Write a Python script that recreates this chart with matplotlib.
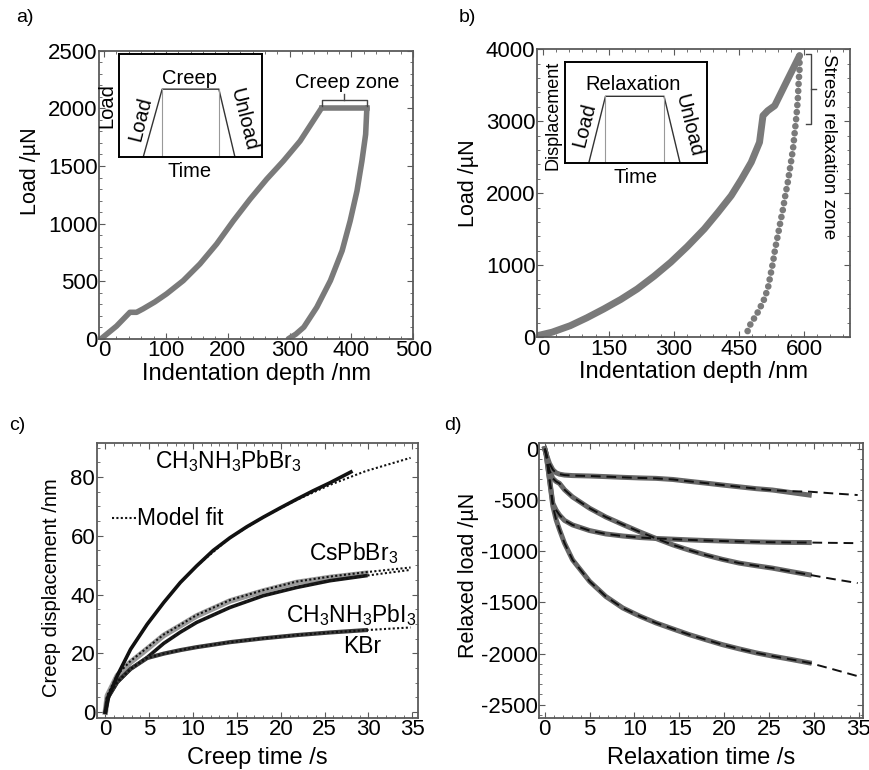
import matplotlib
matplotlib.use("Agg")
from matplotlib import pyplot as plt
from matplotlib.ticker import MultipleLocator

plt.rcParams['font.family'] = ['Liberation Sans', 'DejaVu Sans']
plt.rcParams['mathtext.fontset'] = 'custom'
plt.rcParams['mathtext.rm'] = 'Liberation Sans'
plt.rcParams['mathtext.it'] = 'Liberation Sans'
plt.rcParams['axes.unicode_minus'] = False

# a) creep indentation curve
a_load_depth = [-5, 20, 41.7, 52.5, 63, 82, 101, 128, 155, 182, 209, 236, 263, 290, 317, 352]
a_load_force = [0, 110, 230, 230, 260, 320, 390, 505, 650, 823, 1024, 1212, 1386, 1544, 1717, 2006]
a_creep_depth = [352, 375, 400, 425]
a_creep_force = [2006, 2006, 2006, 2006]
a_unload_depth = [425, 423, 417, 409, 398, 385, 366, 344, 323, 310, 298]
a_unload_force = [2006, 1775, 1544, 1284, 1024, 765, 505, 274, 101, 40, 0]

# b) stress relaxation indentation curve
b_load_depth = [-15, 20, 62, 100, 139, 178, 216, 255, 293, 331, 370, 401, 432, 455, 478, 497, 505, 516, 532, 560, 589]
b_load_force = [20, 70, 161, 270, 393, 525, 671, 850, 1042, 1260, 1504, 1730, 1967, 2190, 2431, 2708, 3078, 3147, 3217, 3560, 3911]
b_unload_depth = [589, 589, 587, 585, 582, 578, 574, 568, 562, 556, 551, 545, 539, 533, 528, 522, 516, 507, 497, 488, 478, 470, 466]
b_unload_force = [3911, 3720, 3542, 3300, 3078, 2850, 2615, 2380, 2153, 1960, 1782, 1600, 1411, 1230, 1042, 855, 671, 520, 393, 290, 208, 92, 22]

# c) creep displacement vs time
c_time_bbr = [0, 0.4, 1.36, 2.88, 4.77, 6.66, 8.55, 10.4, 12.3, 14.2, 16.1, 18.0, 19.9, 21.8, 23.7, 25.6, 28.0]
c_mapbbr = [0, 5.5, 12.4, 21.4, 29.9, 37.3, 44.1, 49.7, 55.0, 59.3, 63.0, 66.3, 69.4, 72.4, 75.3, 78.0, 81.7]
c_time = [0, 0.23, 1.36, 2.88, 4.77, 6.66, 8.55, 10.4, 14.2, 18.0, 21.8, 25.6, 29.7]
c_cspbbr = [0, 5.6, 12.4, 17.0, 21.5, 26.1, 29.4, 32.7, 37.8, 41.2, 44.1, 45.8, 47.2]
c_mapbi = [0, 4.5, 10.1, 14.7, 18.6, 23.4, 27.2, 30.5, 35.6, 39.6, 42.4, 44.7, 46.4]
c_kbr = [0, 4.8, 10.4, 14.7, 18.4, 19.9, 21.1, 22.1, 23.8, 25.1, 26.2, 27.1, 27.9]
c_fit_time = [0, 0.23, 1.36, 2.88, 4.77, 6.66, 8.55, 10.4, 14.2, 18.0, 21.8, 25.6, 29.7, 34.8]
c_fit_mapbbr = [0, 4.5, 12.4, 21.4, 29.9, 37.3, 44.1, 49.7, 59.3, 66.3, 72.2, 77.3, 82.0, 86.5]
c_fit_cspbbr = [0, 5.8, 12.8, 17.4, 21.9, 26.4, 29.7, 33.0, 38.1, 41.5, 44.4, 46.1, 47.6, 49.2]
c_fit_mapbi = [0, 4.5, 10.1, 14.7, 18.6, 23.4, 27.2, 30.5, 35.6, 39.6, 42.4, 44.7, 46.4, 48.4]
c_fit_kbr = [0, 4.8, 10.4, 14.7, 18.4, 19.9, 21.1, 22.1, 23.8, 25.1, 26.2, 27.1, 27.9, 28.8]

# d) relaxed load vs time
d_time = [0, 0.15, 0.52, 0.9, 1.27, 1.64, 2.2, 3.1, 5.0, 6.8, 8.7, 10.6, 12.4, 14.3, 16.1, 18.0, 19.8, 21.7, 23.6, 25.4, 27.5, 29.5]
d_load_1 = [0, -50, -143, -205, -235, -248, -257, -262, -266, -272, -279, -285, -289, -300, -318, -336, -354, -372, -390, -403, -428, -452]
d_load_2 = [0, -45, -208, -290, -320, -338, -400, -471, -581, -666, -740, -812, -876, -939, -990, -1039, -1080, -1117, -1143, -1166, -1200, -1231]
d_load_3 = [0, -60, -290, -533, -600, -647, -700, -744, -799, -832, -852, -867, -876, -883, -890, -896, -901, -906, -910, -913, -915, -916]
d_load_4 = [0, -46, -300, -560, -695, -790, -922, -1085, -1295, -1442, -1555, -1635, -1701, -1760, -1815, -1866, -1913, -1955, -1994, -2025, -2058, -2091]
d_fit_time = d_time + [32, 34.9]
d_fit_1 = d_load_1[:-3] + [-405, -415, -419, -435, -452]
d_fit_2 = d_load_2 + [-1270, -1312]
d_fit_3 = d_load_3 + [-919, -922]
d_fit_4 = d_load_4 + [-2150, -2221]

gray = '#7a7a7a'
frame = '#5a5a5a'
tick_fs = 16
xlabel_fs = 17
note_fs = 14.5

fig = plt.figure(figsize=(8.7, 7.7), dpi=100)
ax_a = fig.add_axes([0.114, 0.560, 0.361, 0.374])
ax_b = fig.add_axes([0.617, 0.562, 0.360, 0.374])
ax_c = fig.add_axes([0.111, 0.0675, 0.370, 0.357])
ax_d = fig.add_axes([0.620, 0.0675, 0.372, 0.357])


def style(ax, xmaj, xmin, ymaj, ymin):
    for s in ax.spines.values():
        s.set_color(frame)
        s.set_linewidth(1.3)
    ax.xaxis.set_major_locator(MultipleLocator(xmaj))
    ax.xaxis.set_minor_locator(MultipleLocator(xmin))
    ax.yaxis.set_major_locator(MultipleLocator(ymaj))
    ax.yaxis.set_minor_locator(MultipleLocator(ymin))
    ax.tick_params(which='both', direction='in', top=True, right=True, color=frame,
                   labelsize=tick_fs, pad=1)
    ax.tick_params(which='major', length=4)
    ax.tick_params(which='minor', length=2)


def labels(ax, xl, yl, yfs, ylx, yly, xpad):
    ax.set_xlabel(xl, fontsize=xlabel_fs, labelpad=xpad)
    ax.set_ylabel(yl, fontsize=yfs)
    ax.yaxis.set_label_coords(ylx, yly)


# ---- a)
ax_a.plot(a_load_depth, a_load_force, color=gray, lw=4, solid_capstyle='round', solid_joinstyle='round')
ax_a.plot(a_creep_depth, a_creep_force, color=gray, lw=4)
ax_a.plot(a_unload_depth, a_unload_force, color=gray, lw=4, solid_capstyle='round', solid_joinstyle='round')
ax_a.set_xlim(-8, 500)
ax_a.set_ylim(0, 2500)
style(ax_a, 100, 20, 500, 100)
labels(ax_a, 'Indentation depth /nm', 'Load /\u00b5N', 15.5, -0.186, 0.583, 1)
# creep zone bracket
bx0, bx1 = a_creep_depth[0], a_creep_depth[-1]
ax_a.plot([bx0, bx0, bx1, bx1], [2020, 2072, 2072, 2020], color='#444444', lw=1)
ax_a.plot([(bx0 + bx1) / 2] * 2, [2072, 2122], color='#444444', lw=1)
ax_a.text(393, 2222, 'Creep zone', fontsize=note_fs, ha='center', va='center')

ins_a = ax_a.inset_axes([0.064, 0.632, 0.455, 0.358])
ins_a.plot([0.168, 0.30, 0.697, 0.809], [0.0, 0.656, 0.656, 0.0], color='#333333', lw=1)
ins_a.plot([0.30, 0.30], [0, 0.656], color='#999999', lw=0.8)
ins_a.plot([0.697, 0.697], [0, 0.656], color='#999999', lw=0.8)
ins_a.set_xlim(0, 1)
ins_a.set_ylim(0, 1)
ins_a.set_xticks([])
ins_a.set_yticks([])
for s in ins_a.spines.values():
    s.set_linewidth(1.4)
ins_a.text(0.49, 0.76, 'Creep', fontsize=note_fs, ha='center', va='center')
ins_a.text(0.15, 0.37, 'Load', fontsize=note_fs, ha='center', va='center', rotation=76)
ins_a.text(0.87, 0.36, 'Unload', fontsize=note_fs, ha='center', va='center', rotation=-76)
ins_a.text(-0.085, 0.5, 'Load', fontsize=note_fs, ha='center', va='center', rotation=90)
ins_a.text(0.49, -0.14, 'Time', fontsize=note_fs, ha='center', va='center')

# ---- b)
ax_b.plot(b_load_depth, b_load_force, color=gray, lw=5, solid_capstyle='round', solid_joinstyle='round')
ax_b.plot(b_unload_depth, b_unload_force, color=gray, lw=4.8, ls=(0, (0.01, 1.05)),
          dash_capstyle='round')
ax_b.set_xlim(-15, 705)
ax_b.set_ylim(0, 4000)
style(ax_b, 150, 30, 1000, 200)
labels(ax_b, 'Indentation depth /nm', 'Load /\u00b5N', 15.5, -0.186, 0.535, 1)
ax_b.plot([605, 616, 616, 605], [2962, 2962, 3935, 3935], color='#444444', lw=1)
ax_b.plot([616, 628], [3448, 3448], color='#444444', lw=1)
ax_b.text(655, 2652, 'Stress relaxation zone', fontsize=13.5, rotation=-90,
          ha='center', va='center')

ins_b = ax_b.inset_axes([0.089, 0.604, 0.454, 0.351])
ins_b.plot([0.169, 0.287, 0.699, 0.812], [0.0, 0.663, 0.663, 0.0], color='#333333', lw=1)
ins_b.plot([0.287, 0.287], [0, 0.663], color='#999999', lw=0.8)
ins_b.plot([0.699, 0.699], [0, 0.663], color='#999999', lw=0.8)
ins_b.set_xlim(0, 1)
ins_b.set_ylim(0, 1)
ins_b.set_xticks([])
ins_b.set_yticks([])
for s in ins_b.spines.values():
    s.set_linewidth(1.4)
ins_b.text(0.48, 0.78, 'Relaxation', fontsize=note_fs, ha='center', va='center')
ins_b.text(0.14, 0.38, 'Load', fontsize=note_fs, ha='center', va='center', rotation=76)
ins_b.text(0.87, 0.37, 'Unload', fontsize=note_fs, ha='center', va='center', rotation=-76)
ins_b.text(-0.085, 0.47, 'Displacement', fontsize=13, ha='center', va='center', rotation=90)
ins_b.text(0.5, -0.14, 'Time', fontsize=note_fs, ha='center', va='center')

# ---- c)
ax_c.plot(c_time, c_cspbbr, color='#9a9a9a', lw=4)
ax_c.plot(c_time, c_mapbi, color='#1a1a1a', lw=2.6)
ax_c.plot(c_time, c_kbr, color='#3a3a3a', lw=3)
ax_c.plot(c_time_bbr, c_mapbbr, color='#111111', lw=2.6)
for fit in (c_fit_mapbbr, c_fit_cspbbr, c_fit_mapbi, c_fit_kbr):
    ax_c.plot(c_fit_time, fit, color='#111111', lw=1.5, ls=(0, (1, 1.1)))
ax_c.set_xlim(-1, 35.7)
ax_c.set_ylim(-2, 91.5)
style(ax_c, 5, 1, 20, 5)
labels(ax_c, 'Creep time /s', 'Creep displacement /nm', 14.5, -0.112, 0.476, 5)
ax_c.plot([0.75, 3.5], [66, 66], color='#111111', lw=1.5, ls=(0, (1, 1.1)))
ax_c.text(3.6, 66, 'Model fit', fontsize=16.5, va='center')
ax_c.text(14.0, 85.5, r'CH$_3$NH$_3$PbBr$_3$', fontsize=16.5, ha='center', va='center')
ax_c.text(28.3, 54.2, r'CsPbBr$_3$', fontsize=16.5, ha='center', va='center')
ax_c.text(28.0, 33.0, r'CH$_3$NH$_3$PbI$_3$', fontsize=16.5, ha='center', va='center')
ax_c.text(29.3, 22.2, 'KBr', fontsize=16.5, ha='center', va='center')

# ---- d)
for data in (d_load_1, d_load_2, d_load_3, d_load_4):
    ax_d.plot(d_time, data, color='#666666', lw=3.6)
for fit in (d_fit_1, d_fit_2, d_fit_3, d_fit_4):
    ax_d.plot(d_fit_time, fit, color='#111111', lw=1.4, ls=(0, (5, 3)))
ax_d.set_xlim(-0.6, 35.5)
ax_d.set_ylim(-2630, 55)
style(ax_d, 5, 1, 500, 100)
labels(ax_d, 'Relaxation time /s', 'Relaxed load /\u00b5N', 15.5, -0.186, 0.52, 5)

for lbl, x, y in (('a)', 0.018, 0.988), ('b)', 0.527, 0.988), ('c)', 0.010, 0.458), ('d)', 0.510, 0.458)):
    fig.text(x, y, lbl, fontsize=14, va='top')

fig.savefig('out.png', dpi=100)
